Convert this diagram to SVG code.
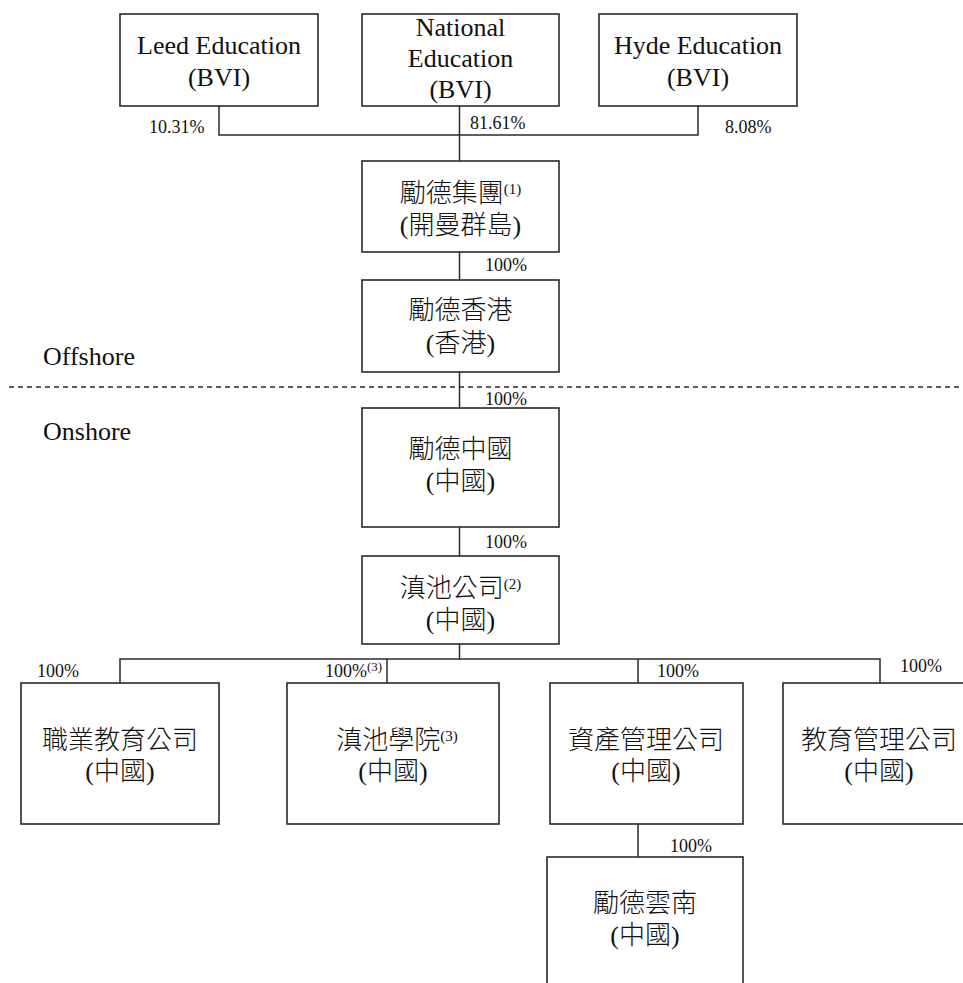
<svg xmlns="http://www.w3.org/2000/svg" width="963" height="983" viewBox="0 0 963 983">
<style>
  .box { fill: #ffffff; stroke: #2a2a2a; stroke-width: 1.6; }
  .ln { fill: none; stroke: #2a2a2a; stroke-width: 1.5; }
  .dash { fill: none; stroke: #2a2a2a; stroke-width: 1.3; stroke-dasharray: 5 4; }
  .en { font-family: "Liberation Serif", "Times New Roman", serif; font-size: 26px; fill: #111; text-anchor: middle; }
  .zh { font-family: "Liberation Serif", "Noto Sans CJK TC", serif; font-size: 26px; font-weight: 300; fill: #111; text-anchor: middle; }
  .pct { font-family: "Liberation Serif", "Times New Roman", serif; font-size: 18px; fill: #111; }
  .side { font-family: "Liberation Serif", "Times New Roman", serif; font-size: 26px; fill: #111; }
  .sup { font-size: 15px; }
  .psup { font-size: 13px; }
</style>
<rect width="963" height="983" fill="#ffffff"/>

<g id="connectors">
  <path class="ln" d="M219 106 V135 H698 V106"/>
  <path class="ln" d="M459.5 106 V161"/>
  <path class="ln" d="M459.5 252 V280"/>
  <path class="ln" d="M459.5 372 V408"/>
  <path class="ln" d="M459.5 527 V556"/>
  <path class="ln" d="M459.5 644 V659"/>
  <path class="ln" d="M120 683 V659 H880 V683"/>
  <path class="ln" d="M387 659 V683"/>
  <path class="ln" d="M638 659 V683"/>
  <path class="ln" d="M638 824 V857"/>
  <line class="dash" x1="9" y1="387" x2="963" y2="387"/>
</g>

<g id="labels">
  <text class="pct" x="149" y="133">10.31%</text>
  <text class="pct" x="470" y="129">81.61%</text>
  <text class="pct" x="725" y="133">8.08%</text>
  <text class="pct" x="485" y="271">100%</text>
  <text class="pct" x="485" y="405">100%</text>
  <text class="pct" x="485" y="548">100%</text>
  <text class="pct" x="37" y="677">100%</text>
  <text class="pct" x="325" y="677">100%<tspan class="psup" dy="-6">(3)</tspan></text>
  <text class="pct" x="657" y="677">100%</text>
  <text class="pct" x="900" y="672">100%</text>
  <text class="pct" x="670" y="852">100%</text>
  <text class="side" x="43" y="365">Offshore</text>
  <text class="side" x="43" y="440">Onshore</text>
</g>

<g id="node-leed">
  <rect class="box" x="120" y="14" width="198" height="92"/>
  <text class="en" x="219" y="54">Leed Education</text>
  <text class="en" x="219" y="86">(BVI)</text>
</g>
<g id="node-national">
  <rect class="box" x="362" y="14" width="197" height="92"/>
  <text class="en" x="460.5" y="36">National</text>
  <text class="en" x="460.5" y="67">Education</text>
  <text class="en" x="460.5" y="98">(BVI)</text>
</g>
<g id="node-hyde">
  <rect class="box" x="599" y="14" width="198" height="92"/>
  <text class="en" x="698" y="54">Hyde Education</text>
  <text class="en" x="698" y="86">(BVI)</text>
</g>

<g id="node-group">
  <rect class="box" x="362" y="161" width="197" height="91"/>
  <text class="zh" x="460.5" y="202">勵德集團<tspan class="sup" dy="-8">(1)</tspan></text>
  <text class="zh" x="460.5" y="234">(開曼群島)</text>
</g>
<g id="node-hk">
  <rect class="box" x="362" y="280" width="197" height="92"/>
  <text class="zh" x="460.5" y="319">勵德香港</text>
  <text class="zh" x="460.5" y="352">(香港)</text>
</g>
<g id="node-china">
  <rect class="box" x="362" y="408" width="197" height="119"/>
  <text class="zh" x="460.5" y="458">勵德中國</text>
  <text class="zh" x="460.5" y="490">(中國)</text>
</g>
<g id="node-dianchi">
  <rect class="box" x="362" y="556" width="197" height="88"/>
  <text class="zh" x="460.5" y="597">滇池公司<tspan class="sup" dy="-8">(2)</tspan></text>
  <text class="zh" x="460.5" y="629">(中國)</text>
</g>

<g id="node-vocational">
  <rect class="box" x="21" y="683" width="198" height="141"/>
  <text class="zh" x="120" y="749">職業教育公司</text>
  <text class="zh" x="120" y="780">(中國)</text>
</g>
<g id="node-college">
  <rect class="box" x="287" y="683" width="212" height="141"/>
  <text class="zh" x="397" y="749">滇池學院<tspan class="sup" dy="-8">(3)</tspan></text>
  <text class="zh" x="393" y="780">(中國)</text>
</g>
<g id="node-asset">
  <rect class="box" x="550" y="683" width="193" height="141"/>
  <text class="zh" x="646" y="749">資產管理公司</text>
  <text class="zh" x="646" y="780">(中國)</text>
</g>
<g id="node-edumgmt">
  <rect class="box" x="783" y="683" width="200" height="141"/>
  <text class="zh" x="879" y="749">教育管理公司</text>
  <text class="zh" x="879" y="780">(中國)</text>
</g>

<g id="node-yunnan">
  <rect class="box" x="547" y="857" width="196" height="140"/>
  <text class="zh" x="645" y="912">勵德雲南</text>
  <text class="zh" x="645" y="944">(中國)</text>
</g>
</svg>
